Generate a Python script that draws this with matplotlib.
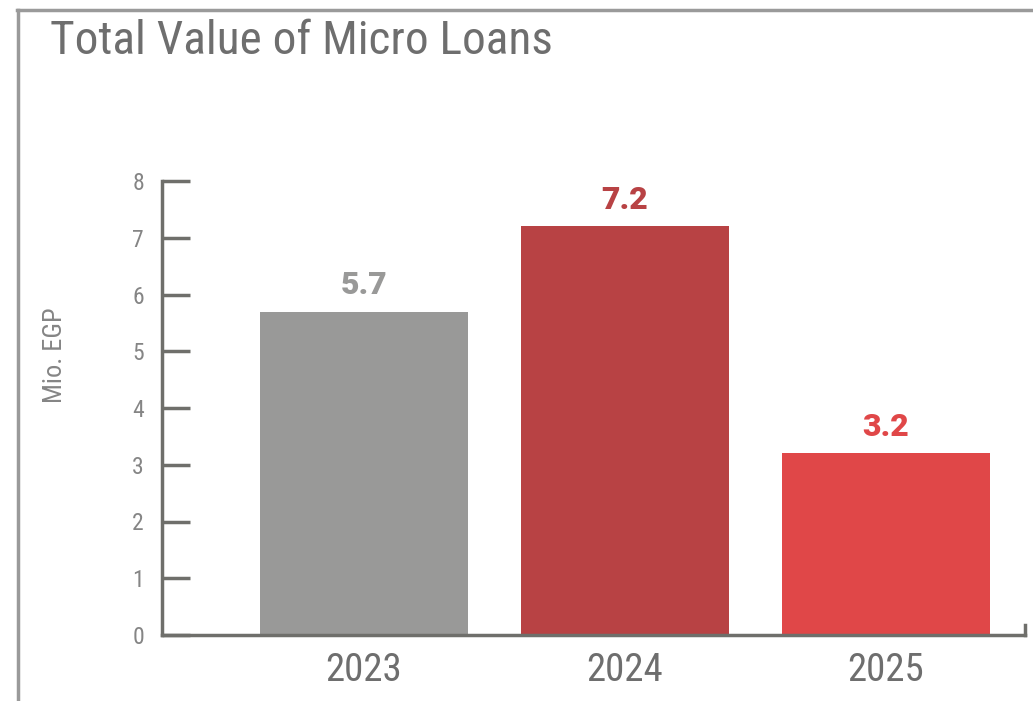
import matplotlib
matplotlib.use("Agg")
import matplotlib.pyplot as plt
from matplotlib import font_manager
from matplotlib.lines import Line2D

# data
years = ["2023", "2024", "2025"]
values = [5.7, 7.2, 3.2]
bar_colors = ["#999998", "#B84244", "#E04748"]
label_colors = ["#999998", "#B84244", "#E04748"]
y_ticks = [0, 1, 2, 3, 4, 5, 6, 7, 8]

available = {f.name for f in font_manager.fontManager.ttflist}
narrow = next((f for f in ["Liberation Sans Narrow", "Roboto Condensed", "Open Sans Condensed",
                           "DejaVu Sans Condensed", "Liberation Sans"] if f in available), "DejaVu Sans")
bold_font = "Roboto" if "Roboto" in available else "DejaVu Sans"

text_grey = "#6e6e6e"
tick_grey = "#858585"
axis_grey = "#6f6f6b"

fig = plt.figure(figsize=(10.33, 7.01), dpi=100)
ax = fig.add_axes([162 / 1033, 66 / 701, 863 / 1033, 454 / 701])

x = list(range(len(years)))
ax.bar(x, values, width=0.797, color=bar_colors, zorder=2)
for xi, v, c in zip(x, values, label_colors):
    ax.text(xi, v + 0.2, f"{v:.1f}", ha="center", va="bottom", color=c,
            fontsize=23, fontweight="heavy", family=bold_font)

ax.set_xlim(-0.774, 2.533)
ax.set_ylim(0, 8)
ax.set_yticks(y_ticks)
ax.set_xticks(x)
ax.set_xticklabels(years, family=narrow, fontsize=28, color=text_grey)
ax.set_yticklabels([str(t) for t in y_ticks], family=narrow, fontsize=17, color=tick_grey)
ax.tick_params(axis="y", direction="in", length=20, width=2.5, color=axis_grey, pad=13)
ax.tick_params(axis="x", length=0, pad=12)

ax.spines["top"].set_visible(False)
ax.spines["right"].set_bounds(0, 0.18)
for s in ["left", "bottom", "right"]:
    ax.spines[s].set_color(axis_grey)
    ax.spines[s].set_linewidth(2.5)

ax.set_ylabel("Mio. EGP", family=narrow, fontsize=19, color=tick_grey)
ax.yaxis.set_label_coords(-0.110, 0.617)

fig.text(50 / 1033, 1 - 19 / 701, "Total Value of Micro Loans", family=narrow,
         fontsize=34, color=text_grey, ha="left", va="top")

# outer frame lines (top and left)
fig.add_artist(Line2D([17 / 1033, 1], [1 - 10 / 701, 1 - 10 / 701], color="#9a9a9a", lw=2.5,
                      transform=fig.transFigure))
fig.add_artist(Line2D([18 / 1033, 18 / 1033], [0, 1 - 10 / 701], color="#9a9a9a", lw=2.5,
                      transform=fig.transFigure))

fig.savefig("out.png", dpi=100)
